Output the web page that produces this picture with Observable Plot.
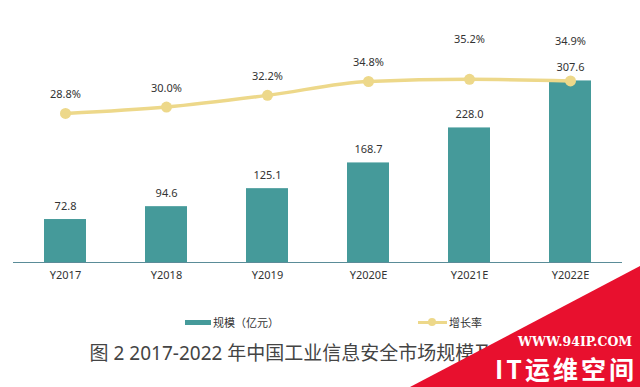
<!DOCTYPE html>
<html><head><meta charset="utf-8">
<script src="https://cdn.jsdelivr.net/npm/d3@7"></script>
<script src="https://cdn.jsdelivr.net/npm/@observablehq/plot@0.6"></script>
<style>
  html,body{margin:0;padding:0;background:#fff;}
  #wrap{position:relative;width:640px;height:387px;overflow:hidden;font-family:"Noto Sans CJK SC","Noto Sans",sans-serif;}
  #chart{position:absolute;left:0;top:0;}
  .leg{position:absolute;top:314px;font-size:11px;color:#333;line-height:16px;display:flex;align-items:center;white-space:nowrap;}
  .sw{display:inline-block;width:26px;height:5px;background:#459a9a;margin-right:2px;}
  .ln{position:relative;display:inline-block;width:29px;height:3px;background:#edd88a;margin-right:2px;}
  .ln i{position:absolute;left:10px;top:-2.5px;width:8px;height:8px;border-radius:50%;background:#edd88a;}
  #title{position:absolute;top:340px;left:0;width:640px;text-align:center;font-family:"Noto Sans","Noto Sans CJK SC",sans-serif;font-size:19px;color:#444;line-height:26px;white-space:nowrap;}
  #wm{position:absolute;left:0;top:0;width:640px;height:387px;background:#e8102e;clip-path:polygon(640px 266px,640px 387px,410px 387px);}
  #wm1{position:absolute;left:518px;top:334px;font-family:"DejaVu Serif",serif;font-weight:bold;font-size:12.5px;color:#fff;white-space:nowrap;}
  #wm2{position:absolute;left:495px;top:352px;font-family:"Noto Sans CJK SC",sans-serif;font-weight:bold;font-size:25px;color:#fff;letter-spacing:3px;line-height:32px;white-space:nowrap;}
</style>
</head><body>
<div id="wrap">
  <div id="chart"></div>
  <div class="leg" style="left:185px;"><span class="sw"></span>规模（亿元）</div>
  <div class="leg" style="left:418px;"><span class="ln"><i></i></span>增长率</div>
  <div id="title">图 2 2017-2022 年中国工业信息安全市场规模及增长率</div>
  <div id="wm"></div>
  <div id="wm1">WWW.94IP.COM</div>
  <div id="wm2">IT运维空间</div>
</div>
<script>
const years = ["Y2017", "Y2018", "Y2019", "Y2020E", "Y2021E", "Y2022E"];
const marketSize = [72.8, 94.6, 125.1, 168.7, 228.0, 307.6];
const growthRate = [28.8, 30.0, 32.2, 34.8, 35.2, 34.9];

const rows = years.map((y, i) => ({year: y, size: marketSize[i], growth: growthRate[i], i}));
// secondary axis for growth rate mapped onto the bar scale
const g2y = d3.scaleLinear().domain([20, 40]).range([173.0, 353.6]);

const teal = "#459a9a";
const yellow = "#edd88a";

const chart = Plot.plot({
  width: 640,
  height: 290,
  marginTop: 20,
  marginBottom: 28,
  marginLeft: 13,
  marginRight: 18,
  style: {fontFamily: "'Noto Sans', 'Noto Sans CJK SC', sans-serif", fontSize: "11px", color: "#333", background: "transparent"},
  x: {domain: years, paddingInner: 0.587, paddingOuter: 0.295, label: null, tickSize: 0, tickPadding: 9},
  y: {domain: [0, 410], axis: null},
  marks: [
    Plot.barY(rows, {x: "year", y: "size", fill: teal}),
    Plot.ruleY([0], {stroke: "#5a8c98", strokeWidth: 1.2}),
    Plot.text(rows, {x: "year", y: "size", text: d => d.size.toFixed(1), dy: -13, fontSize: 11, fill: "#333"}),
    Plot.line(rows, {x: "year", y: d => g2y(d.growth), stroke: yellow, strokeWidth: 3.5, curve: "monotone-x"}),
    Plot.dot(rows, {x: "year", y: d => g2y(d.growth), r: 5.5, fill: yellow}),
    Plot.text(rows.filter(d => d.i < 4), {x: "year", y: d => g2y(d.growth), text: d => d.growth.toFixed(1) + "%", dy: -19, fontSize: 11, fill: "#333"}),
    Plot.text(rows.filter(d => d.i >= 4), {x: "year", y: d => g2y(d.growth), text: d => d.growth.toFixed(1) + "%", dy: -40, fontSize: 11, fill: "#333"})
  ]
});
document.getElementById("chart").appendChild(chart);
</script>
</body></html>
